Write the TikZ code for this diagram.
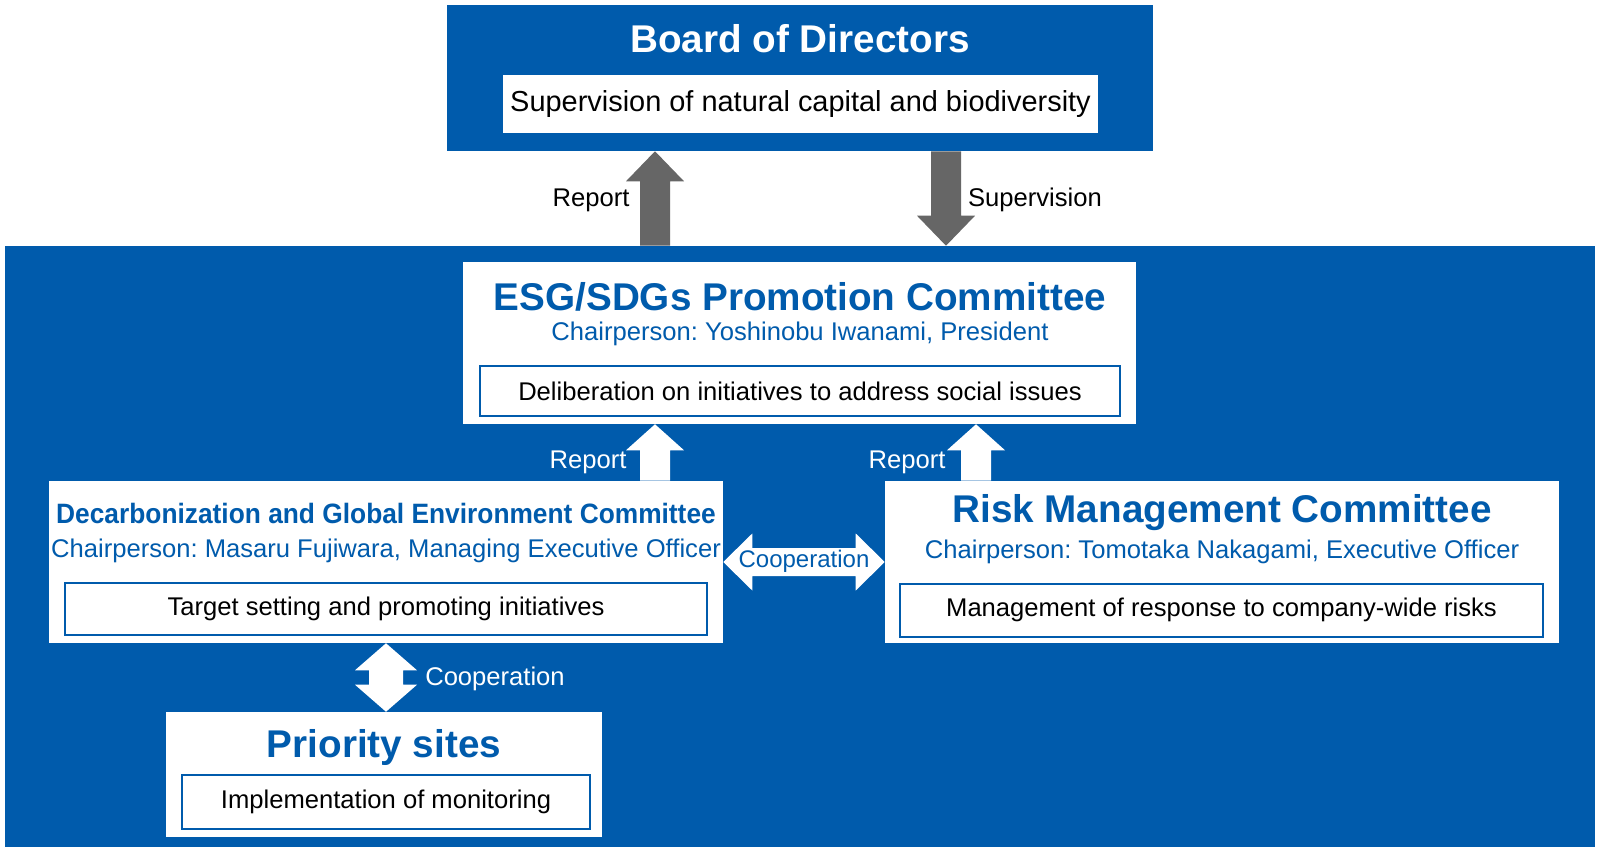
\documentclass[tikz,border=0pt]{standalone}
\usepackage{fontspec}
\setmainfont{Liberation Sans}
\usepackage{graphicx}
\usetikzlibrary{positioning, calc}
\definecolor{cBlue}{HTML}{005BAC}
\definecolor{cGray}{HTML}{666666}
\newcommand{\fTitle}{\fontsize{29}{33}\selectfont\bfseries}
\newcommand{\fBody}{\fontsize{19.2}{22}\selectfont}
\frenchspacing

\begin{document}
\begin{tikzpicture}[
  x=0.75pt, y=-0.75pt,
  panel/.style={fill=cBlue, inner sep=0pt},
  card/.style={fill=white, inner sep=0pt},
  task/.style={draw=cBlue, line width=1.5pt, fill=white, inner sep=0pt,
               font=\fBody, text=black},
  ttl/.style={font=\fTitle, text=cBlue, inner sep=0pt},
  chair/.style={font=\fBody, text=cBlue, inner sep=0pt},
  lbl/.style={font=\fBody, inner sep=0pt},
  % single block arrow, tip at the target; #1 = head length (sign = direction)
  blockv/.style={to path={
    ($(\tikztostart)+(-15,0)$) -- ($(\tikztotarget)+(-15,#1)$)
    -- ($(\tikztotarget)+(-29,#1)$) -- (\tikztotarget)
    -- ($(\tikztotarget)+(29,#1)$) -- ($(\tikztotarget)+(15,#1)$)
    -- ($(\tikztostart)+(15,0)$) -- cycle}},
  % double block arrows
  dblh/.style={to path={
    (\tikztostart) -- ($(\tikztostart)+(29,-28.5)$) -- ($(\tikztostart)+(29,-14)$)
    -- ($(\tikztotarget)+(-29,-14)$) -- ($(\tikztotarget)+(-29,-28.5)$)
    -- (\tikztotarget) -- ($(\tikztotarget)+(-29,28.5)$)
    -- ($(\tikztotarget)+(-29,14)$) -- ($(\tikztostart)+(29,14)$)
    -- ($(\tikztostart)+(29,28.5)$) -- cycle}},
  dblv/.style={to path={
    (\tikztostart) -- ($(\tikztostart)+(31,27)$) -- ($(\tikztostart)+(17,27)$)
    -- ($(\tikztotarget)+(17,-27)$) -- ($(\tikztotarget)+(31,-27)$)
    -- (\tikztotarget) -- ($(\tikztotarget)+(-31,-27)$)
    -- ($(\tikztotarget)+(-17,-27)$) -- ($(\tikztostart)+(-17,27)$)
    -- ($(\tikztostart)+(-31,27)$) -- cycle}},
]

\fill[white] (0,0) rectangle (1600,852);
\useasboundingbox (0,0) rectangle (1600,852);

% ---- Board of Directors ------------------------------------------------
\node[panel, minimum width=529.5pt, minimum height=109.5pt] (board) at (800,78) {};
\node[font=\fTitle, text=white, inner sep=0pt] (boardttl) at (800,39) {Board of Directors};
\node[card, font=\fontsize{21.7}{25}\selectfont, minimum width=446.25pt,
      minimum height=43.5pt] (boardtask)
  at (800.5,104) {Supervision of natural capital and biodiversity};

% ---- Executive side ----------------------------------------------------
\node[panel, minimum width=1192.5pt, minimum height=450.75pt] (exec) at (800,546.5) {};

\node[card, minimum width=504.75pt, minimum height=121.5pt] (esg) at (799.5,343) {};
\node[ttl] (esgttl) at (800,297) {ESG/SDGs Promotion Committee};
\node[chair] (esgchair) at (800,334) {Chairperson: Yoshinobu Iwanami, President};
\node[task, minimum width=480pt, minimum height=37.5pt] (esgtask) at (800,391)
  {Deliberation on initiatives to address social issues};

\node[card, minimum width=505.5pt, minimum height=121.5pt] (decarb) at (386,562) {};
\node[ttl, font=\fontsize{21}{25}\selectfont\bfseries] (decarbttl) at (386,513)
  {\scalebox{0.94}[1]{Decarbonization and Global Environment Committee}};
\node[chair] (decarbchair) at (386,551)
  {Chairperson: Masaru Fujiwara, Managing Executive Officer};
\node[task, minimum width=481.5pt, minimum height=39pt] (decarbtask) at (386,609)
  {Target setting and promoting initiatives};

\node[card, minimum width=505.5pt, minimum height=121.5pt] (risk) at (1222,562) {};
\node[ttl] (riskttl) at (1222,513) {Risk Management Committee};
\node[chair] (riskchair) at (1222,552)
  {Chairperson: Tomotaka Nakagami, Executive Officer};
\node[task, minimum width=482.25pt, minimum height=39.75pt] (risktask) at (1221.5,610)
  {Management of response to company-wide risks};

\node[card, minimum width=327pt, minimum height=93.75pt] (sites) at (384,774.5) {};
\node[ttl] (sitesttl) at (384,747) {Priority sites};
\node[task, minimum width=306pt, minimum height=40.5pt] (sitestask) at (386,802)
  {Implementation of monitoring};

% ---- Block arrows ------------------------------------------------------
\coordinate (repx) at (655,0);
\coordinate (supx) at (946,0);
\coordinate (rep2x) at (976,0);

\fill[cGray] (exec.north -| repx) to[blockv=30] (board.south -| repx);
\fill[cGray] (board.south -| supx) to[blockv=-30] (exec.north -| supx);
\fill[white] (decarb.north -| repx) to[blockv=26] (esg.south -| repx);
\fill[white] (risk.north -| rep2x) to[blockv=26] (esg.south -| rep2x);
\fill[white] (decarb.east) to[dblh] (risk.west);
\fill[white] (decarb.south) to[dblv] (sites.north -| decarb.south);

% ---- Arrow labels ------------------------------------------------------
\node[lbl] (lrep) at (591,200) {Report};
\node[lbl] (lsup) at (1035,200) {Supervision};
\node[lbl, text=white] (lrep1) at (588,462) {Report};
\node[lbl, text=white] (lrep2) at (907,462) {Report};
\node[lbl, text=cBlue, font=\fontsize{18}{21}\selectfont] (lcoop1) at (804,561) {Cooperation};
\node[lbl, text=white, anchor=west] (lcoop2) at (425,679) {Cooperation};

\end{tikzpicture}
\end{document}
